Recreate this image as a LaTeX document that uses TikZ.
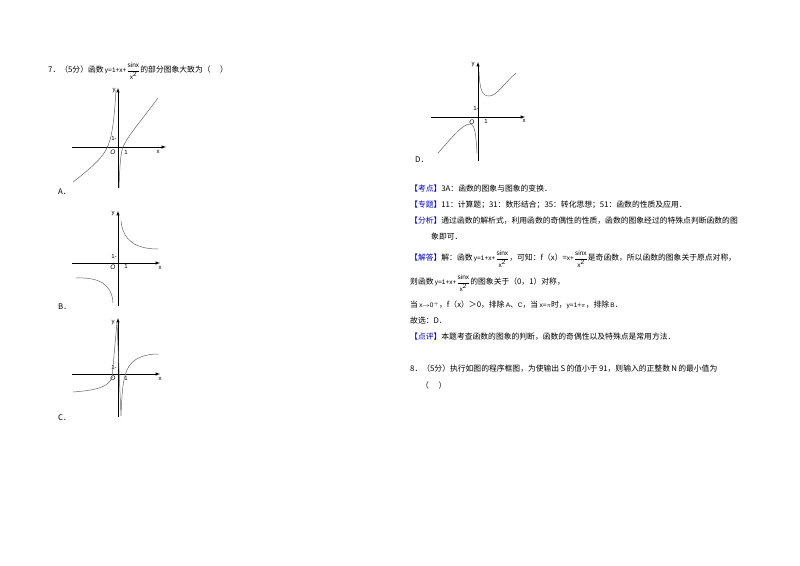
\documentclass[tikz,border=0pt]{standalone}
\usepackage{fontspec}
\setmainfont{Noto Sans CJK SC}
\newfontfamily\lat{Liberation Sans}
\begin{document}
\begin{tikzpicture}[x=1pt,y=-1pt,
  t/.style={anchor=west,inner sep=0,font=\fontsize{7.8}{9}\selectfont},
  lab/.style={inner sep=0,font=\fontsize{6}{7}\selectfont\lat},
  ax/.style={line width=0.5pt,-latex},
  cv/.style={line width=0.5pt,gray!80!black}]
\useasboundingbox[fill=white] (0,0) rectangle (800,565);
\newcommand\sm[1]{{\lat\fontsize{6.5}{7}\selectfont #1}}
\newcommand\fq{$\displaystyle\frac{\mbox{\sm{sinx}}}{\mbox{\sm{x$^{\mbox{\sm{2}}}$}}}$}
\newcommand\fr{\,\sm{y=1+x+}\fq}
\newcommand\bl[1]{\textcolor{blue!80!black}{【#1】}}
% Q7
\node[t] (q7) at (48,71) {7．（5分）函数\fr 的部分图象大致为（\quad\ ）};
% Graph A
\draw[ax] (72,147) -- (166,147); \draw[ax] (118,188) -- (118,88);
\node[lab] at (158,152) {x}; \node[lab] at (114,91) {y};
\node[lab] at (114,138) {1-}; \node[lab] at (126,152) {1}; \node[lab,font=\fontsize{6.5}{7}\selectfont\itshape\lat] at (113,152) {O};
\draw[cv] (73,182) .. controls (95,165) and (106,155) .. (110,140) .. controls (114,125) and (115,105) .. (116,90);
\draw[cv] (119,188) .. controls (120,160) and (121,150) .. (124,145) .. controls (128,136) and (140,122) .. (158,98);
\node[t] at (58,192) {A．};
% Graph B
\draw[ax] (72,263) -- (160,263); \draw[ax] (118,306) -- (118,211);
\node[lab] at (160,268) {x}; \node[lab] at (113,214) {y};
\node[lab] at (114,256) {1-}; \node[lab] at (126,266) {1}; \node[lab,font=\fontsize{6.5}{7}\selectfont\itshape\lat] at (113,267) {O};
\draw[cv] (121,221) .. controls (123,240) and (135,249) .. (158,249);
\draw[cv] (76,278) .. controls (100,277) and (112,285) .. (113,303);
\node[t] at (58,307) {B．};
% Graph C
\draw[ax] (72,374) -- (160,374); \draw[ax] (118,417) -- (118,318);
\node[lab] at (160,379) {x}; \node[lab] at (113,323) {y};
\node[lab] at (114,367) {1-}; \node[lab] at (126,378) {1}; \node[lab,font=\fontsize{6.5}{7}\selectfont\itshape\lat] at (113,378) {O};
\draw[cv] (73,392) .. controls (100,390) and (108,386) .. (112,378) -- (117,322) -- (121,416) .. controls (122,390) and (123,380) .. (127,370) .. controls (132,358) and (145,354) .. (158,354);
\node[t] at (58,418) {C．};
% Graph D
\draw[ax] (431,117) -- (525,117); \draw[ax] (478,161) -- (478,62);
\node[lab] at (524,121) {x}; \node[lab] at (473,65) {y};
\node[lab] at (476,108) {1-}; \node[lab] at (486,121) {1}; \node[lab,font=\fontsize{6.5}{7}\selectfont\itshape\lat] at (472,122) {O};
\draw[cv] (479,72) .. controls (480,90) and (482,96) .. (489,96) .. controls (497,96) and (505,82) .. (516,73);
\draw[cv] (438,153) .. controls (450,140) and (462,124) .. (470,124) .. controls (475,124) and (476,135) .. (477,153);
\node[t] at (415,160) {D．};
% Right text
\node[t] (k1) at (410,189) {\bl{考点}3A：函数的图象与图象的变换．};
\node[t] (k2) at (410,205) {\bl{专题}11：计算题；31：数形结合；35：转化思想；51：函数的性质及应用．};
\node[t] (k3) at (410,221) {\bl{分析}通过函数的解析式，利用函数的奇偶性的性质，函数的图象经过的特殊点判断函数的图};
\node[t] (k4) at (431,237) {象即可．};
\node[t] (k5) at (410,259) {\bl{解答}解：函数\fr，可知：f（x）=\sm{x+}\fq 是奇函数，所以函数的图象关于原点对称，};
\node[t] (k6) at (410,283) {则函数\fr 的图象关于（0，1）对称，};
\node[t] (k7) at (410,305) {当\,\sm{x$\to$0$^{+}$}，f（x）＞0，排除\,\sm{A}、\sm{C}，当\,\sm{x=$\pi$}时，\sm{y=1+$\pi$}，排除\,\sm{B}．};
\node[t] (k8) at (410,321) {故选：D．};
\node[t] (k9) at (410,337) {\bl{点评}本题考查函数的图象的判断，函数的奇偶性以及特殊点是常用方法．};
\node[t] (q8) at (410,369) {8．（5分）执行如图的程序框图，为使输出\,S\,的值小于\,91，则输入的正整数\,N\,的最小值为};
\node[t] (q8b) at (421,386) {（\quad\ ）};
\end{tikzpicture}
\end{document}
